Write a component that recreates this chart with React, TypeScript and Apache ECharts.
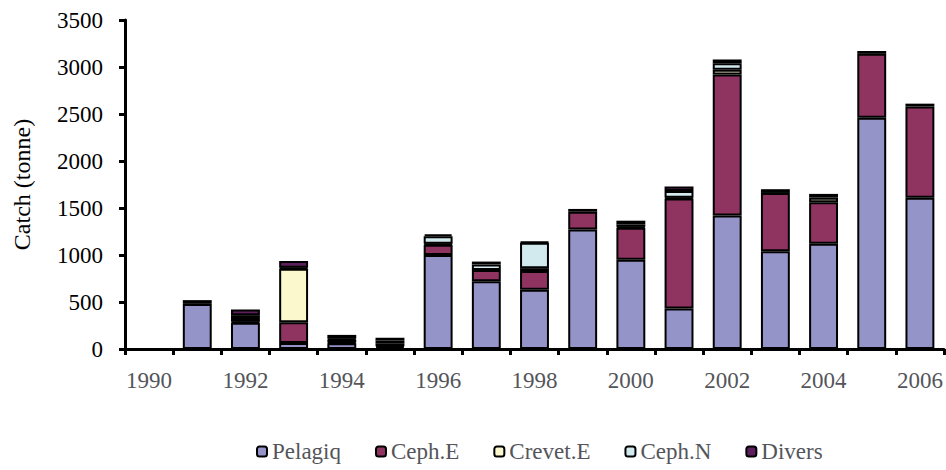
import React, { useEffect, useRef } from "react";
import * as echarts from "echarts";

const years = ["1990","1991","1992","1993","1994","1995","1996","1997","1998","1999","2000","2001","2002","2003","2004","2005","2006"];
const pelagiq = [0, 480, 280, 65, 60, 20, 1000, 720, 630, 1270, 950, 430, 1420, 1040, 1120, 2460, 1610];
const cephE   = [0, 0, 10, 220, 10, 10, 110, 120, 200, 190, 340, 1170, 1500, 620, 440, 680, 970];
const crevetE = [0, 0, 40, 570, 30, 30, 10, 0, 30, 0, 10, 10, 50, 0, 50, 0, 0];
const cephN   = [0, 0, 30, 10, 10, 30, 80, 60, 270, 0, 25, 70, 70, 0, 0, 0, 0];
const divers  = [0, 40, 60, 70, 40, 30, 20, 30, 10, 30, 40, 50, 40, 40, 40, 30, 30];

const seriesNames = ["Pelagiq", "Ceph.E", "Crevet.E", "Ceph.N", "Divers"];
const seriesData = [pelagiq, cephE, crevetE, cephN, divers];
const colors = ["#9494C8", "#8F3460", "#FAF8CC", "#D2EAEE", "#5C1F5C"];

const FONT = "serif";

export default function App() {
  const ref = useRef<HTMLDivElement>(null);
  useEffect(() => {
    document.body.style.margin = "0";
    if (!ref.current) return;
    const chart = echarts.init(ref.current, null, { renderer: "svg" });
    chart.setOption({
      animation: false,
      textStyle: { fontFamily: FONT },
      grid: { left: 125, right: 2, top: 20, bottom: 121 },
      legend: {
        bottom: 2,
        left: 251,
        itemGap: 34,
        itemWidth: 10,
        itemHeight: 10,
        textStyle: { fontFamily: FONT, fontSize: 23 },
      },
      xAxis: {
        type: "category",
        data: years,
        axisLine: { lineStyle: { color: "#000", width: 3 } },
        axisTick: { show: true, interval: 0, length: 6, lineStyle: { color: "#000", width: 3 } },
        axisLabel: { interval: 1, fontFamily: FONT, fontSize: 23, margin: 20 },
      },
      yAxis: {
        type: "value",
        min: 0,
        max: 3500,
        interval: 500,
        name: "Catch (tonne)",
        nameLocation: "middle",
        nameGap: 91,
        nameTextStyle: { fontFamily: FONT, fontSize: 24, color: "#000" },
        axisLine: { show: true, lineStyle: { color: "#000", width: 3 } },
        axisTick: { show: true, length: 6, lineStyle: { color: "#000", width: 3 } },
        splitLine: { show: false },
        axisLabel: { fontFamily: FONT, fontSize: 23, color: "#000", margin: 22, formatter: (v: number) => String(v) },
      },
      series: seriesNames.map((name, i) => ({
        name,
        type: "bar",
        stack: "total",
        barWidth: "60%",
        data: seriesData[i].map((v) => (v === 0 ? "-" : v)),
        itemStyle: { color: colors[i], borderColor: "#000", borderWidth: 2 },
      })),
    });
    return () => chart.dispose();
  }, []);
  return <div ref={ref} style={{ width: 946, height: 470 }} />;
}
